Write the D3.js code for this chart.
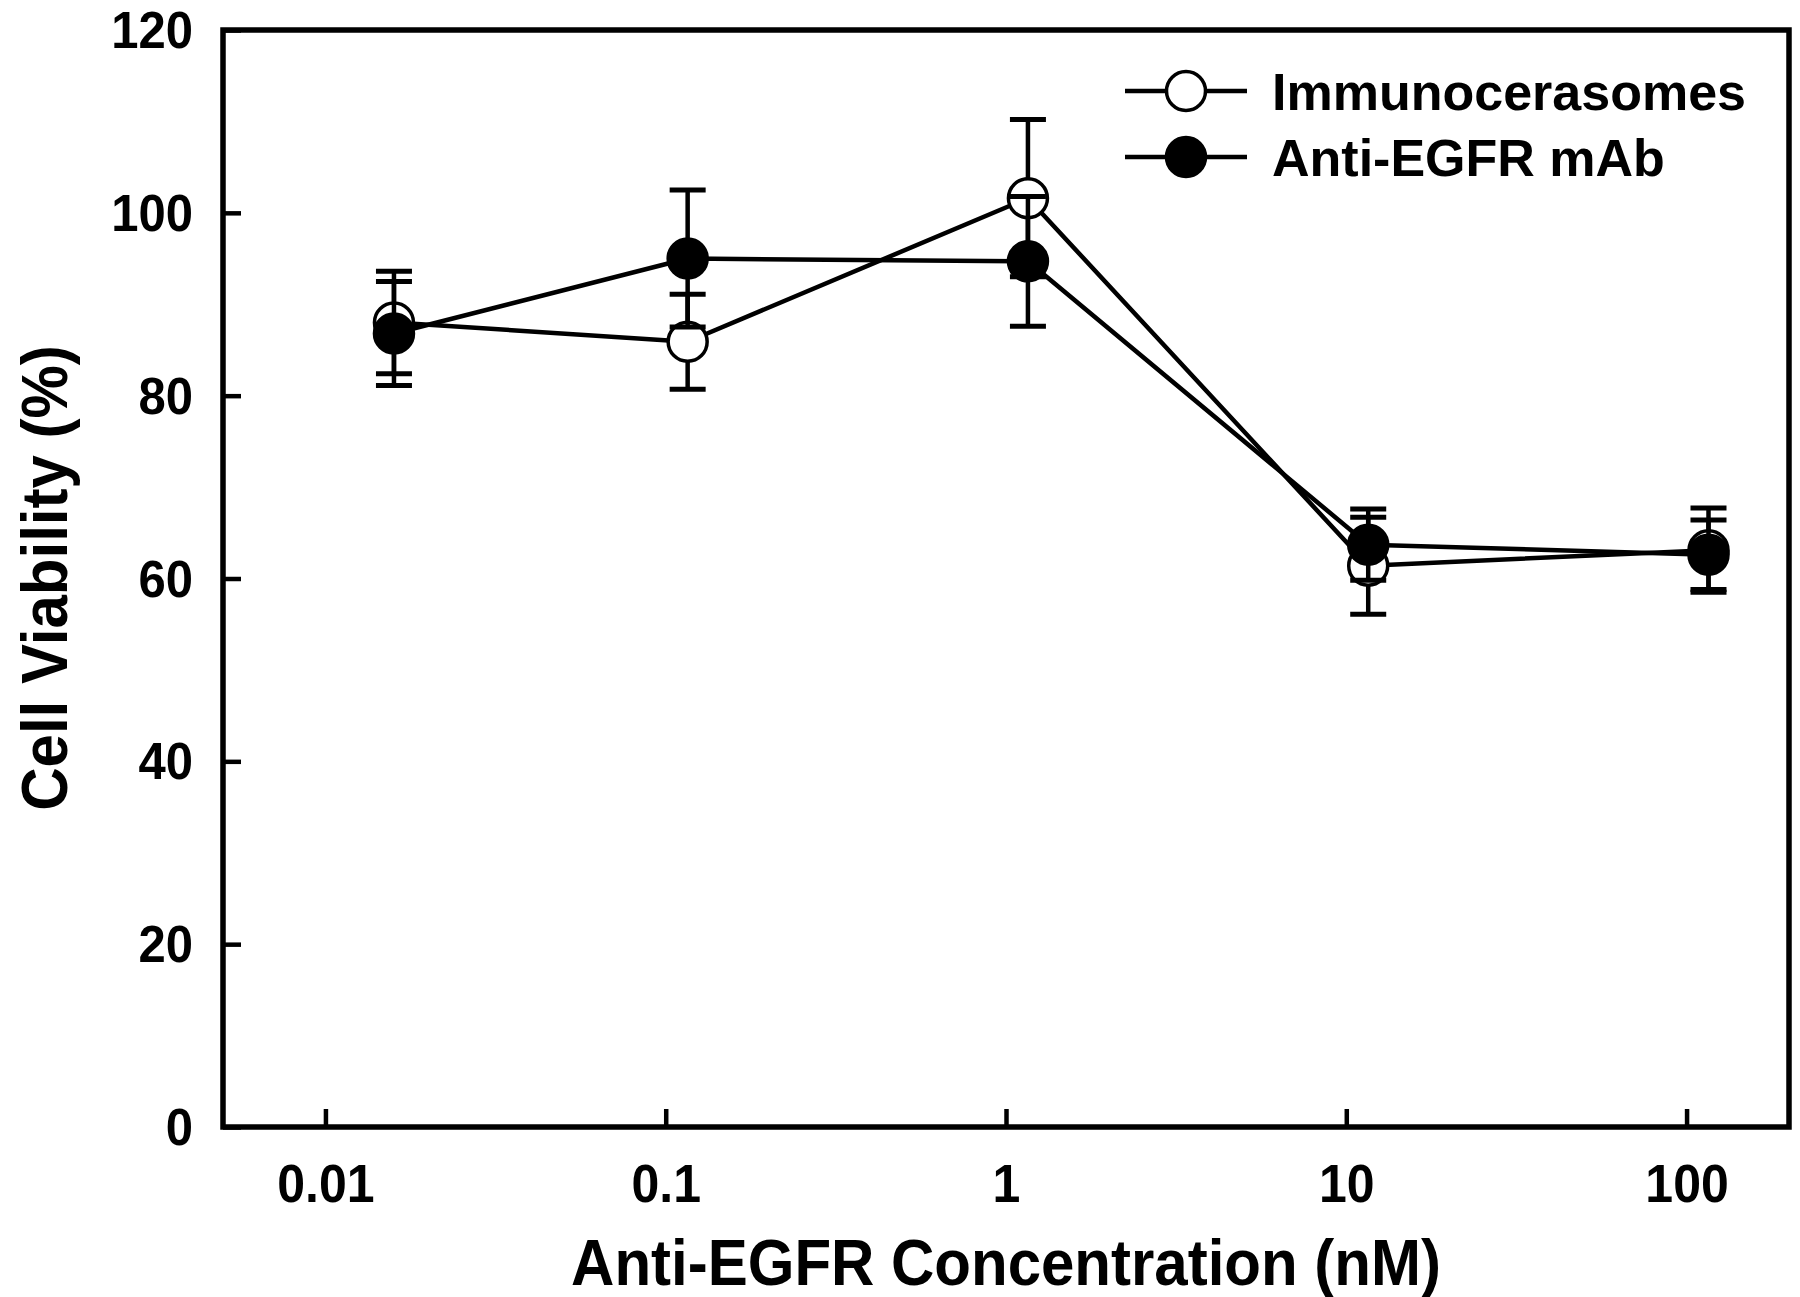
<!DOCTYPE html>
<html>
<head>
<meta charset="utf-8">
<script src="https://cdn.jsdelivr.net/npm/d3@7"></script>
<style>
  html, body { margin: 0; padding: 0; background: #fff; }
  svg { display: block; }
  text { font-family: "Liberation Sans", Arial, Helvetica, sans-serif; font-weight: bold; fill: #000; }
</style>
</head>
<body>
<svg id="chart" width="1800" height="1297"></svg>
<script>
// ---- data ----
const concentrations = [0.0159, 0.116, 1.16, 11.6, 116];
const immunoMean = [88.0, 85.9, 101.6, 61.4, 63.1];
const immunoErr  = [5.6, 5.2, 8.6, 5.3, 4.6];
const mabMean    = [86.8, 95.0, 94.7, 63.7, 62.6];
const mabErr     = [5.7, 7.5, 7.1, 3.9, 3.8];
const seriesNames = ["Immunocerasomes", "Anti-EGFR mAb"];
const xTicks = [0.01, 0.1, 1, 10, 100];
const xTickLabels = ["0.01", "0.1", "1", "10", "100"];
const yTicks = [0, 20, 40, 60, 80, 100, 120];
const xTitle = "Anti-EGFR Concentration (nM)";
const yTitle = "Cell Viability (%)";

// ---- layout ----
const L = 223, R = 1789, T = 30, B = 1127;
const svg = d3.select("#chart");

const x = d3.scaleLog().domain([0.005, 200]).range([L, R]);
const y = d3.scaleLinear().domain([0, 120]).range([B, T]);

const tickLen = 18;
const stretch = 1.06;

// Y axis
const yAxis = d3.axisLeft(y).tickValues(yTicks).tickFormat(d3.format("d"))
  .tickSizeInner(-tickLen).tickSizeOuter(0).tickPadding(30);
const gy = svg.append("g").attr("transform", `translate(${L},0)`).call(yAxis);
gy.select(".domain").remove();
gy.selectAll(".tick line").attr("stroke", "#000").attr("stroke-width", 4.5);
gy.selectAll(".tick text")
  .attr("font-size", 49)
  .attr("font-family", null)
  .attr("dy", null)
  .attr("y", 17.5 / stretch)
  .attr("transform", `scale(1,${stretch})`);

// X axis
const xAxis = d3.axisBottom(x).tickValues(xTicks).tickFormat((d, i) => xTickLabels[i])
  .tickSizeInner(-tickLen).tickSizeOuter(0);
const gx = svg.append("g").attr("transform", `translate(0,${B})`).call(xAxis);
gx.select(".domain").remove();
gx.selectAll(".tick line").attr("stroke", "#000").attr("stroke-width", 4.5);
gx.selectAll(".tick text")
  .attr("font-size", 50)
  .attr("font-family", null)
  .attr("dy", null)
  .attr("y", 75 / stretch)
  .attr("transform", `scale(1,${stretch})`);

// frame
svg.append("rect")
  .attr("x", L).attr("y", T).attr("width", R - L).attr("height", B - T)
  .attr("fill", "none").attr("stroke", "#000").attr("stroke-width", 5.5);

// axis titles
svg.append("text")
  .attr("text-anchor", "middle")
  .attr("font-size", 60)
  .attr("transform", `translate(1006,1285) scale(1,1.08)`)
  .text(xTitle);
svg.append("text")
  .attr("text-anchor", "middle")
  .attr("font-size", 60)
  .attr("transform", `translate(67,578) rotate(-90) scale(1,1.08)`)
  .text(yTitle);

// ---- series ----
const r = 19.5, cap = 18;
const line = d3.line().x(d => x(d.c)).y(d => y(d.v));

function drawSeries(means, errs, filled) {
  const pts = concentrations.map((c, i) => ({ c, v: means[i], e: errs[i] }));
  const g = svg.append("g");
  g.append("path").datum(pts).attr("d", line)
    .attr("fill", "none").attr("stroke", "#000").attr("stroke-width", 4.5)
    .attr("stroke-linejoin", "round");
  const eb = g.selectAll(".eb").data(pts).enter().append("g");
  eb.append("line")
    .attr("x1", d => x(d.c)).attr("x2", d => x(d.c))
    .attr("y1", d => y(d.v + d.e)).attr("y2", d => y(d.v - d.e))
    .attr("stroke", "#000").attr("stroke-width", 4.5);
  eb.append("line")
    .attr("x1", d => x(d.c) - cap).attr("x2", d => x(d.c) + cap)
    .attr("y1", d => y(d.v + d.e)).attr("y2", d => y(d.v + d.e))
    .attr("stroke", "#000").attr("stroke-width", 5);
  eb.append("line")
    .attr("x1", d => x(d.c) - cap).attr("x2", d => x(d.c) + cap)
    .attr("y1", d => y(d.v - d.e)).attr("y2", d => y(d.v - d.e))
    .attr("stroke", "#000").attr("stroke-width", 5);
  g.selectAll("circle").data(pts).enter().append("circle")
    .attr("cx", d => x(d.c)).attr("cy", d => y(d.v)).attr("r", r)
    .attr("fill", filled ? "#000" : "#fff")
    .attr("stroke", "#000").attr("stroke-width", 3.5);
}
drawSeries(immunoMean, immunoErr, false);
drawSeries(mabMean, mabErr, true);

// ---- legend ----
const legendRows = [
  { name: seriesNames[0], filled: false, cy: 91, base: 110 },
  { name: seriesNames[1], filled: true, cy: 157, base: 176 }
];
const lg = svg.append("g");
legendRows.forEach(row => {
  lg.append("line").attr("x1", 1125).attr("x2", 1247).attr("y1", row.cy).attr("y2", row.cy)
    .attr("stroke", "#000").attr("stroke-width", 4.5);
  lg.append("circle").attr("cx", 1186).attr("cy", row.cy).attr("r", r)
    .attr("fill", row.filled ? "#000" : "#fff").attr("stroke", "#000").attr("stroke-width", 3.5);
  lg.append("text").attr("x", 1272).attr("y", row.base).attr("font-size", 52).text(row.name);
});
</script>
</body>
</html>
